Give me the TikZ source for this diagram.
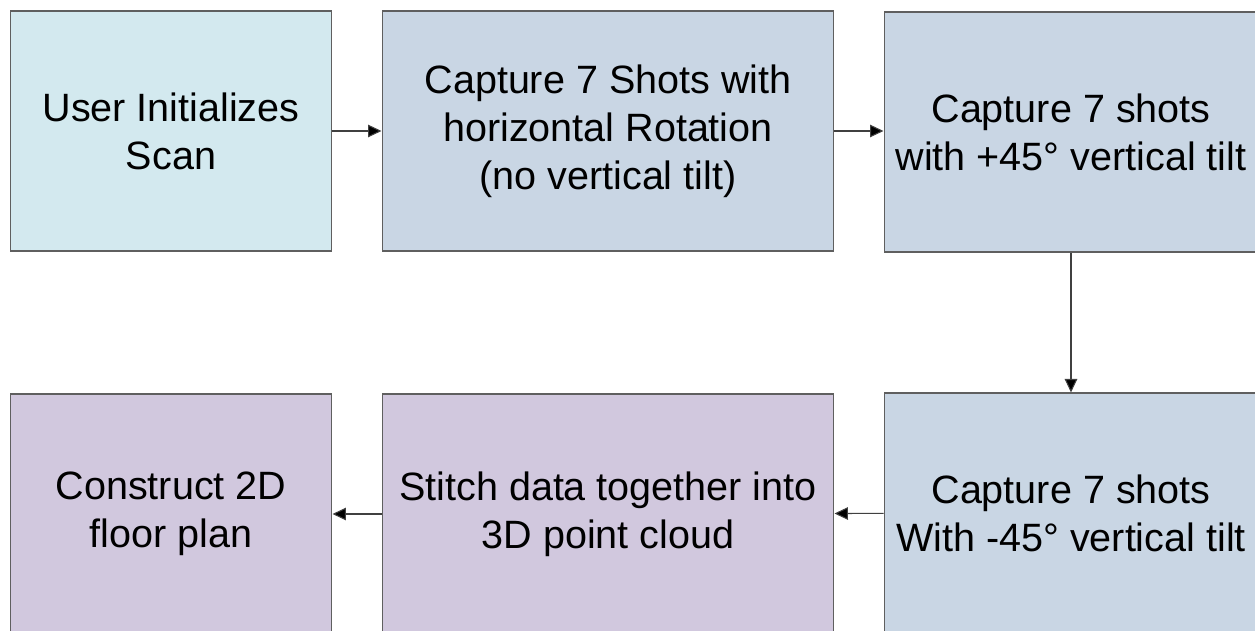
\documentclass[tikz,border=0pt]{standalone}
\usepackage{fontspec}
\setmainfont{Liberation Sans}
\usetikzlibrary{arrows.meta}
\definecolor{startfill}{RGB}{211,233,239}
\definecolor{shotfill}{RGB}{201,214,228}
\definecolor{mergefill}{RGB}{209,200,222}
\definecolor{edgegray}{RGB}{95,95,95}
\tikzset{
  stage/.style={draw=edgegray,line width=0.6pt,minimum height=4.8cm,inner sep=0pt,
    align=center,font=\fontsize{22.5}{27.3}\selectfont},
  flow/.style={draw=black!75,line width=0.6pt,-{Triangle[length=0.27cm,width=0.25cm,fill=black]}}
}
\begin{document}
\begin{tikzpicture}[x=0.02cm,y=-0.02cm]
    \useasboundingbox (0,0) rectangle (1255,631);
    \fill[white] (0,0) rectangle (1255,631);
    \clip (0,0) rectangle (1255,631);
    \node[stage,fill=startfill,minimum width=6.44cm] (init) at (171,131) {User Initializes\\Scan};
    \node[stage,fill=shotfill,minimum width=9.04cm] (level) at (608,131) {Capture 7 Shots with\\horizontal Rotation\\(no vertical tilt)};
    \node[stage,fill=shotfill,minimum width=7.48cm] (tiltup) at (1071,132) {Capture 7 shots\\with +45\textdegree{} vertical tilt};
    \node[stage,fill=shotfill,minimum width=7.48cm] (tiltdown) at (1071,513) {Capture 7 shots\\With -45\textdegree{} vertical tilt};
    \node[stage,fill=mergefill,minimum width=9.04cm] (stitch) at (608,514) {Stitch data together into\\3D point cloud};
    \node[stage,fill=mergefill,minimum width=6.44cm] (plan) at (171,514) {Construct 2D\\floor plan};
    \draw[flow] (init) -- (level);
    \draw[flow] (level.east |- init) -- (tiltup.west |- init);
    \draw[flow] (tiltup) -- (tiltdown);
    \draw[flow] (tiltdown) -- (stitch);
    \draw[flow] (stitch) -- (plan);
\end{tikzpicture}
\end{document}
